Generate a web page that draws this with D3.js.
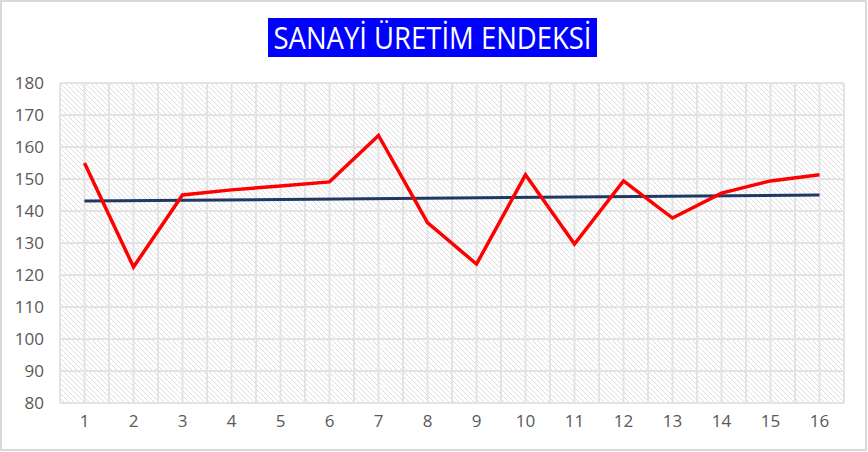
<!DOCTYPE html>
<html>
<head>
<meta charset="utf-8">
<script src="https://cdn.jsdelivr.net/npm/d3@7"></script>
<style>
  body { margin: 0; background: #fff; }
  svg { display: block; }
</style>
</head>
<body>
<div id="viz"></div>
<script>
const periods = [1, 2, 3, 4, 5, 6, 7, 8, 9, 10, 11, 12, 13, 14, 15, 16];
const indexValues = [155, 122.5, 145, 146.6, 147.8, 149.1, 163.6, 136.4, 123.4, 151.3, 129.7, 149.4, 137.8, 145.6, 149.4, 151.3];
const trendPeriods = [1, 16];
const trendValues = [143.1, 145.0];
const yTicks = [80, 90, 100, 110, 120, 130, 140, 150, 160, 170, 180];
const titleText = 'SANAYİ ÜRETİM ENDEKSİ';

function buildChart(containerId) {
    const width = 868;
    const height = 452;

    const margin = {
        top: 83,
        bottom: 49,
        left: 60,
        right: 24
    }

    const innerWidth = width - margin.left - margin.right;
    const innerHeight = height - margin.top - margin.bottom;

    const svg = d3.select(containerId)
        .append('svg')
        .attr('height', height)
        .attr('width', width);

    // outer border
    svg.append('rect')
        .attr('x', 1).attr('y', 1)
        .attr('width', width - 3).attr('height', height - 3)
        .attr('fill', '#fff')
        .attr('stroke', '#d9d9d9')
        .attr('stroke-width', 2);

    const defs = svg.append('defs');
    const pat = defs.append('pattern')
        .attr('id', 'hatch')
        .attr('patternUnits', 'userSpaceOnUse')
        .attr('width', 5)
        .attr('height', 5);
    pat.append('rect').attr('width', 5).attr('height', 5).attr('fill', '#fff');
    pat.append('path')
        .attr('d', 'M-1,-1 L6,6 M-1,4 L1,6 M4,-1 L6,1')
        .attr('stroke', '#dedede')
        .attr('stroke-width', 1);

    // title
    const title = svg.append('g');
    title.append('rect')
        .attr('x', 268).attr('y', 18)
        .attr('width', 329).attr('height', 39)
        .attr('fill', '#0000ff');
    title.append('text')
        .attr('x', 432.5).attr('y', 49)
        .attr('text-anchor', 'middle')
        .attr('fill', '#fff')
        .attr('font-family', '"Open Sans", Lato, sans-serif')
        .attr('font-size', 31)
        .attr('textLength', 318)
        .attr('lengthAdjust', 'spacingAndGlyphs')
        .text(titleText);

    const g = svg.append('g')
        .attr('transform', `translate(${margin.left},${margin.top})`);

    const x = d3.scaleBand()
        .domain(periods)
        .range([0, innerWidth]);

    const y = d3.scaleLinear()
        .domain([80, 180])
        .range([innerHeight, 0]);

    const cx = d => x(d) + x.bandwidth() / 2;

    g.append('rect')
        .attr('width', innerWidth)
        .attr('height', innerHeight)
        .attr('fill', 'url(#hatch)');

    // vertical gridlines: band edges and centers
    const vLines = [];
    periods.forEach(p => { vLines.push(x(p)); vLines.push(cx(p)); });
    vLines.push(innerWidth);
    g.selectAll('.vgrid')
        .data(vLines)
        .enter()
        .append('line')
        .attr('class', 'vgrid')
        .attr('x1', d => d).attr('x2', d => d)
        .attr('y1', 0).attr('y2', innerHeight)
        .attr('stroke', '#e3e3e3')
        .attr('stroke-width', 2);

    g.selectAll('.hgrid')
        .data(yTicks)
        .enter()
        .append('line')
        .attr('class', 'hgrid')
        .attr('x1', 0).attr('x2', innerWidth)
        .attr('y1', d => y(d)).attr('y2', d => y(d))
        .attr('stroke', '#e3e3e3')
        .attr('stroke-width', 2);

    const yAxis = d3.axisLeft(y).tickValues(yTicks).tickSize(0).tickPadding(16);
    const xAxis = d3.axisBottom(x).tickSize(0).tickPadding(12);

    g.append('g')
        .attr('class', 'y-axis')
        .call(yAxis)
        .call(s => s.select('.domain').remove());

    g.append('g')
        .attr('class', 'x-axis')
        .attr('transform', `translate(0,${innerHeight})`)
        .call(xAxis)
        .call(s => s.select('.domain').remove());

    svg.selectAll('.x-axis text, .y-axis text')
        .attr('fill', '#595959')
        .attr('font-family', '"Open Sans", Lato, sans-serif')
        .attr('font-size', 17);

    const line = d3.line()
        .x(d => cx(d[0]))
        .y(d => y(d[1]))
        .curve(d3.curveLinear);

    g.append('path')
        .datum(trendPeriods.map((p, i) => [p, trendValues[i]]))
        .attr('fill', 'none')
        .attr('stroke', '#203864')
        .attr('stroke-width', 3)
        .attr('d', line);

    g.append('path')
        .datum(periods.map((p, i) => [p, indexValues[i]]))
        .attr('fill', 'none')
        .attr('stroke', '#ff0000')
        .attr('stroke-width', 3.5)
        .attr('stroke-linejoin', 'miter')
        .attr('d', line);
}

buildChart('#viz');
</script>
</body>
</html>
